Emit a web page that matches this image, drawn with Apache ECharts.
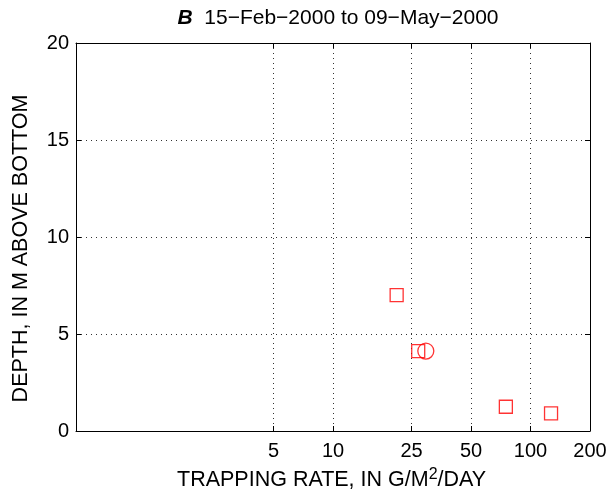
<!DOCTYPE html>
<html>
<head>
<meta charset="utf-8">
<script src="https://cdn.jsdelivr.net/npm/echarts@6/dist/echarts.min.js"></script>
<style>
  html, body { margin: 0; padding: 0; background: #fff; }
  #chart { width: 613px; height: 497px; }
</style>
</head>
<body>
<div id="chart"></div>
<script>
// values
const squareRate = [21, 27, 75, 127];
const squareDepth = [7.0, 4.12, 1.25, 0.91];
const circleRate = [29.5];
const circleDepth = [4.12];
const xTicks = [5, 10, 25, 50, 100, 200];
const yTicks = [0, 5, 10, 15, 20];

const font = 'Liberation Sans, Arial, sans-serif';

function xAxisCfg(pos, showLabel) {
  return {
    type: 'log',
    logBase: 10,
    position: pos,
    min: 0.5,
    max: 200,
    axisLine: { show: true, onZero: false, lineStyle: { color: '#000', width: 1 } },
    axisTick: { show: true, inside: true, length: 5, customValues: xTicks, lineStyle: { color: '#000' } },
    axisLabel: {
      show: showLabel, customValues: xTicks, margin: 10,
      color: '#000', fontSize: 20, fontFamily: font
    },
    splitLine: {
      show: showLabel,
      lineStyle: { color: '#333', type: [1, 4], width: 1 }
    }
  };
}

function yAxisCfg(pos, showLabel) {
  return {
    type: 'value',
    position: pos,
    min: yTicks[0],
    max: yTicks[yTicks.length - 1],
    interval: 5,
    axisLine: { show: true, onZero: false, lineStyle: { color: '#000', width: 1 } },
    axisTick: { show: true, inside: true, length: 5, lineStyle: { color: '#000' } },
    axisLabel: {
      show: showLabel, margin: 7,
      color: '#000', fontSize: 20, fontFamily: font
    },
    splitLine: {
      show: showLabel,
      lineStyle: { color: '#333', type: [1, 4], width: 1 }
    }
  };
}

const chart = echarts.init(document.getElementById('chart'));
const option = {
  animation: false,
  backgroundColor: '#fff',
  title: {
    text: '{b|B}  15−Feb−2000 to 09−May−2000',
    left: 333,
    textAlign: 'center',
    top: 3,
    textStyle: {
      rich: {
        b: { fontWeight: 'bold', fontStyle: 'italic', fontSize: 21, fontFamily: font, color: '#000' }
      },
      fontWeight: 'normal', fontSize: 21, fontFamily: font, color: '#000'
    }
  },
  grid: { left: 76, right: 23, top: 43, bottom: 66, containLabel: false },
  xAxis: [xAxisCfg('bottom', true), xAxisCfg('top', false)],
  yAxis: [yAxisCfg('left', true), yAxisCfg('right', false)],
  graphic: [
    {
      type: 'text', left: 177, top: 467,
      style: {
        text: 'TRAPPING RATE, IN G/M{sup|2}/DAY',
        fill: '#000', font: '21.5px ' + font,
        rich: { sup: { fontSize: 16, verticalAlign: 'top', padding: [0, 0, 10, 0] } }
      }
    },
    {
      type: 'text', left: 10, top: 'middle', rotation: Math.PI / 2,
      style: { text: 'DEPTH, IN M ABOVE BOTTOM', fill: '#000', font: '21.5px ' + font }
    }
  ],
  series: [
    {
      type: 'scatter',
      symbol: 'rect',
      symbolSize: 13,
      data: squareRate.map((r, i) => [r, squareDepth[i]]),
      itemStyle: { color: 'none', borderColor: '#ff0000', borderWidth: 1.3 }
    },
    {
      type: 'scatter',
      symbol: 'circle',
      symbolSize: 16,
      data: circleRate.map((r, i) => [r, circleDepth[i]]),
      itemStyle: { color: 'none', borderColor: '#ff0000', borderWidth: 1.3 }
    }
  ]
};
chart.setOption(option);
</script>
</body>
</html>
